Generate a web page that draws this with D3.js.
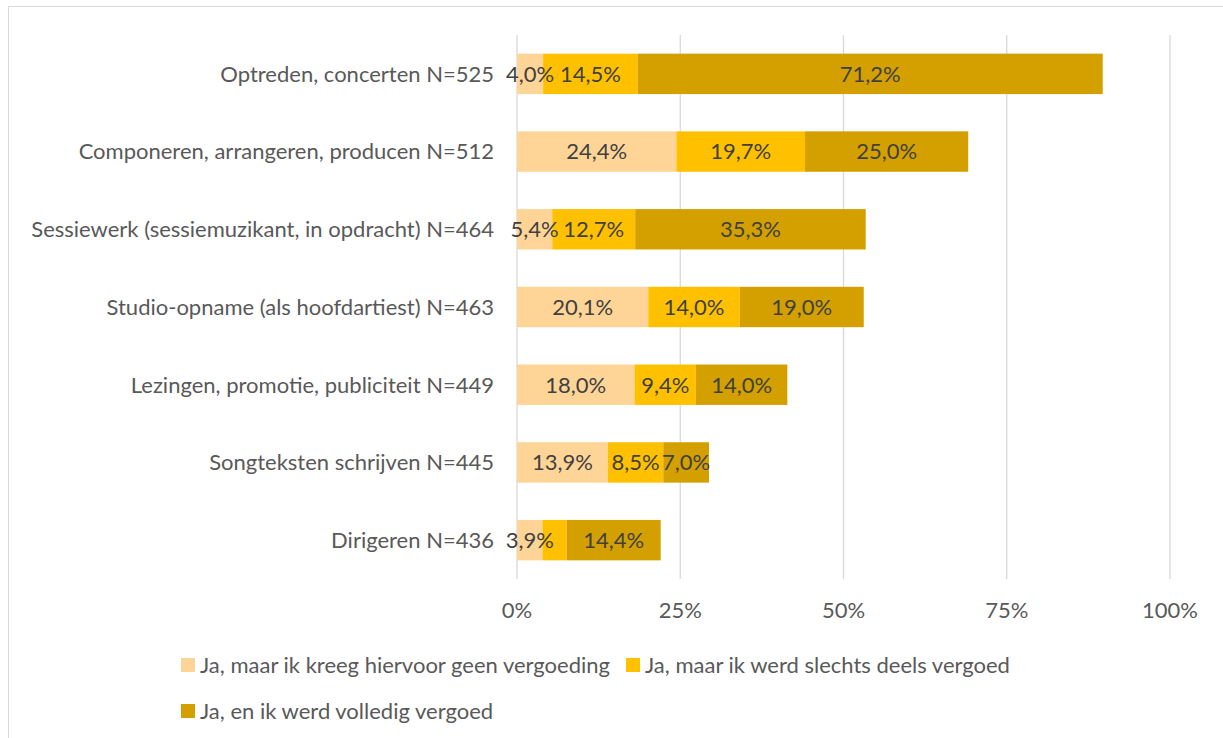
<!DOCTYPE html>
<html>
<head>
<meta charset="utf-8">
<script src="https://cdn.jsdelivr.net/npm/d3@7"></script>
<style>
  body { margin: 0; background: #fff; }
  svg { display: block; font-family: Lato, "Open Sans", sans-serif; }
</style>
</head>
<body>
<svg width="1223" height="738"></svg>
<script>
var categories = [
  "Optreden, concerten N=525",
  "Componeren, arrangeren, producen N=512",
  "Sessiewerk (sessiemuzikant, in opdracht) N=464",
  "Studio-opname (als hoofdartiest) N=463",
  "Lezingen, promotie, publiciteit N=449",
  "Songteksten schrijven N=445",
  "Dirigeren N=436"
];
var seriesNames = [
  "Ja, maar ik kreeg hiervoor geen vergoeding",
  "Ja, maar ik werd slechts deels vergoed",
  "Ja, en ik werd volledig vergoed"
];
var geenVergoeding = [4.0, 24.4, 5.4, 20.1, 18.0, 13.9, 3.9];
var deelsVergoed   = [14.5, 19.7, 12.7, 14.0, 9.4, 8.5, 3.7];
var volledig       = [71.2, 25.0, 35.3, 19.0, 14.0, 7.0, 14.4];
var showLabel      = [[true, true, true], [true, true, true], [true, true, true], [true, true, true],
                      [true, true, true], [true, true, true], [true, false, true]];
var ticks = [0, 25, 50, 75, 100];
var colors = ["#ffd597", "#ffc000", "#d4a000"];

var fontSize = "22px";
var svg = d3.select("svg");

// chart border
svg.append("rect")
    .attr("x", 8.5).attr("y", 6.5)
    .attr("width", 1230).attr("height", 760)
    .attr("fill", "none")
    .attr("stroke", "#d9d9d9");

var x = d3.scaleLinear().domain([0, 100]).range([517, 1170]);
var y = d3.scaleBand().domain(categories).range([35, 579]).paddingInner(0.48).paddingOuter(0.24);

// gridlines
svg.append("g").selectAll("line")
    .data(ticks)
    .enter().append("line")
    .attr("x1", function(d) { return x(d); })
    .attr("x2", function(d) { return x(d); })
    .attr("y1", 35).attr("y2", 579)
    .attr("stroke", "#d9d9d9")
    .attr("stroke-width", 1.3);

// tick labels
svg.append("g").selectAll("text")
    .data(ticks)
    .enter().append("text")
    .attr("x", function(d) { return x(d); })
    .attr("y", 618)
    .attr("text-anchor", "middle")
    .attr("fill", "#595959")
    .style("font-size", fontSize)
    .text(function(d) { return d + "%"; });

var rows = categories.map(function(c, i) {
  var vals = [geenVergoeding[i], deelsVergoed[i], volledig[i]];
  var acc = 0;
  return vals.map(function(v, j) {
    var seg = { cat: c, j: j, v: v, x0: acc, x1: acc + v, show: showLabel[i][j] };
    acc += v;
    return seg;
  });
});
var segs = d3.merge(rows);

svg.append("g").selectAll("rect")
    .data(segs)
    .enter().append("rect")
    .attr("x", function(d) { return x(d.x0); })
    .attr("y", function(d) { return y(d.cat); })
    .attr("width", function(d) { return x(d.x1) - x(d.x0); })
    .attr("height", y.bandwidth())
    .attr("fill", function(d) { return colors[d.j]; });

svg.append("g").selectAll("text")
    .data(segs.filter(function(d) { return d.show; }))
    .enter().append("text")
    .attr("x", function(d) { return x((d.x0 + d.x1) / 2); })
    .attr("y", function(d) { return y(d.cat) + y.bandwidth() / 2; })
    .attr("dy", "0.36em")
    .attr("text-anchor", "middle")
    .attr("fill", "#404040")
    .style("font-size", fontSize)
    .text(function(d) { return d3.format(".1f")(d.v).replace(".", ",") + "%"; });

// category labels
svg.append("g").selectAll("text")
    .data(categories)
    .enter().append("text")
    .attr("x", 494)
    .attr("y", function(d) { return y(d) + y.bandwidth() / 2; })
    .attr("dy", "0.36em")
    .attr("text-anchor", "end")
    .attr("fill", "#595959")
    .style("font-size", fontSize)
    .text(function(d) { return d; });

// legend: first two items on one row, third wraps
var legend = svg.append("g").selectAll("g")
    .data(seriesNames)
    .enter().append("g");

legend.append("rect")
    .attr("x", 0).attr("y", -7)
    .attr("width", 14).attr("height", 14)
    .attr("fill", function(d, i) { return colors[i]; });

legend.append("text")
    .attr("x", 19)
    .attr("dy", "0.36em")
    .attr("fill", "#595959")
    .style("font-size", fontSize)
    .text(function(d) { return d; });

var firstW = legend.filter(function(d, i) { return i === 0; }).select("text").node().getComputedTextLength();
legend.attr("transform", function(d, i) {
  if (i === 0) return "translate(181,665)";
  if (i === 1) return "translate(" + (181 + 19 + firstW + 16) + ",665)";
  return "translate(181,711)";
});
</script>
</body>
</html>
